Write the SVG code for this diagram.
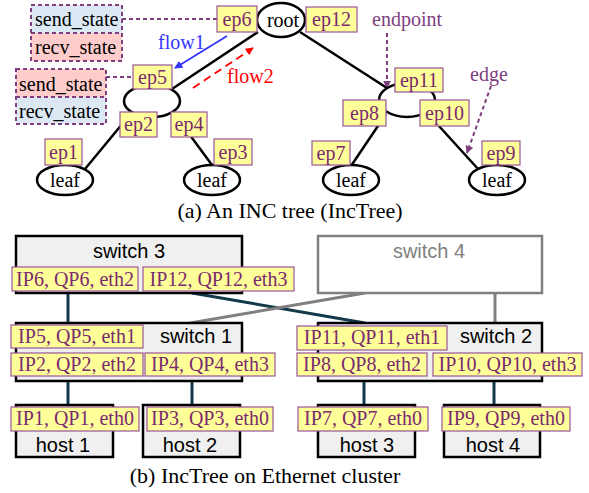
<svg xmlns="http://www.w3.org/2000/svg" width="589" height="493" viewBox="0 0 589 493">
<style>
.ep{fill:#ffff99;stroke:#9a559a;stroke-width:1.2}
.ept{font-family:"Liberation Serif",serif;font-size:20px;fill:#7a2a6e;text-anchor:middle}
.ser{font-family:"Liberation Serif",serif;font-size:20px;fill:#000}
.san{font-family:"Liberation Sans",Arial,sans-serif;font-size:20px;fill:#000;text-anchor:middle}
.node{fill:#fff;stroke:#000;stroke-width:2.5}
.edge{stroke:#000;stroke-width:2.5;fill:none}
.dash{stroke:#7f3f7f;stroke-width:2;stroke-dasharray:4,3;fill:none}
.sw{fill:#f0f0f0;stroke:#000;stroke-width:2.5}
.teal{stroke:#12394a;stroke-width:3;fill:none}
.gray{stroke:#808080;stroke-width:3;fill:none}
</style>
<defs>
<marker id="ab" viewBox="0 0 10 10" refX="9" refY="5" markerWidth="8" markerHeight="8" markerUnits="userSpaceOnUse" orient="auto"><path d="M0,0L10,5L0,10z" fill="#3333ff"/></marker>
<marker id="ar" viewBox="0 0 10 10" refX="9" refY="5" markerWidth="8" markerHeight="8" markerUnits="userSpaceOnUse" orient="auto"><path d="M0,0L10,5L0,10z" fill="#ff0000"/></marker>
<marker id="ap" viewBox="0 0 10 10" refX="9" refY="5" markerWidth="8" markerHeight="8" markerUnits="userSpaceOnUse" orient="auto"><path d="M0,0L10,5L0,10z" fill="#7f3f7f"/></marker>
</defs>

<g id="connectors">
<line class="edge" x1="258" y1="32" x2="172" y2="89"/>
<line class="edge" x1="300" y1="32" x2="387" y2="88"/>
<line class="edge" x1="128" y1="117" x2="85" y2="169"/>
<line class="edge" x1="178" y1="119" x2="212" y2="165"/>
<line class="edge" x1="386" y1="114" x2="351" y2="166"/>
<line class="edge" x1="428" y1="114" x2="479" y2="170"/>
<line class="dash" x1="122" y1="19" x2="217" y2="19"/>
<line class="dash" x1="106" y1="77" x2="133" y2="77"/>
<line stroke="#3333ff" stroke-width="1.8" x1="227" y1="36" x2="175" y2="68" marker-end="url(#ab)"/>
<line stroke="#ff0000" stroke-width="1.8" stroke-dasharray="8,5" x1="193" y1="88" x2="253" y2="48" marker-end="url(#ar)"/>
<line class="dash" x1="387" y1="33" x2="387" y2="88" marker-end="url(#ap)"/>
<line class="dash" x1="491" y1="86" x2="467" y2="153" marker-end="url(#ap)"/>
<line class="teal" x1="68" y1="293" x2="68" y2="323"/>
<line class="teal" x1="192" y1="293" x2="365" y2="323"/>
<line class="gray" x1="365" y1="293" x2="190" y2="323"/>
<line class="gray" x1="495" y1="293" x2="495" y2="323"/>
<line class="teal" x1="68" y1="381" x2="68" y2="405"/>
<line class="teal" x1="192" y1="381" x2="192" y2="405"/>
<line class="teal" x1="364" y1="381" x2="364" y2="405"/>
<line class="teal" x1="494" y1="381" x2="494" y2="405"/>
</g>

<g id="state1">
<rect x="31" y="5" width="91" height="28" fill="#dce9f5"/>
<rect x="31" y="33" width="91" height="28" fill="#ffcccc"/>
<rect class="dash" x="31" y="5" width="91" height="56"/>
<line class="dash" x1="31" y1="33" x2="122" y2="33"/>
<text class="ser" x="35" y="26">send_state</text>
<text class="ser" x="35" y="54">recv_state</text>
</g>
<g id="state2">
<rect x="16" y="69" width="90" height="28" fill="#ffcccc"/>
<rect x="16" y="97" width="90" height="27" fill="#dce9f5"/>
<rect class="dash" x="16" y="69" width="90" height="55"/>
<line class="dash" x1="16" y1="97" x2="106" y2="97"/>
<text class="ser" x="19" y="91">send_state</text>
<text class="ser" x="19" y="118">recv_state</text>
</g>

<g id="root"><ellipse class="node" cx="281" cy="20" rx="24" ry="17"/><text class="ser" x="283" y="27" text-anchor="middle">root</text></g>
<g id="mid1"><ellipse class="node" cx="152" cy="101" rx="28" ry="16"/></g>
<g id="mid2"><ellipse class="node" cx="407" cy="100" rx="28" ry="17"/></g>
<g id="leaf1"><ellipse class="node" cx="65" cy="180" rx="28" ry="15"/><text class="ser" x="65" y="187" text-anchor="middle">leaf</text></g>
<g id="leaf2"><ellipse class="node" cx="212" cy="180" rx="28" ry="15"/><text class="ser" x="212" y="187" text-anchor="middle">leaf</text></g>
<g id="leaf3"><ellipse class="node" cx="351" cy="180" rx="28" ry="15"/><text class="ser" x="351" y="187" text-anchor="middle">leaf</text></g>
<g id="leaf4"><ellipse class="node" cx="497" cy="180" rx="28" ry="15"/><text class="ser" x="497" y="187" text-anchor="middle">leaf</text></g>

<g id="ep6"><rect class="ep" x="217" y="6" width="40" height="26"/><text class="ept" x="237" y="26">ep6</text></g>
<g id="ep12"><rect class="ep" x="306" y="7" width="51" height="25"/><text class="ept" x="331.5" y="26">ep12</text></g>
<g id="ep5"><rect class="ep" x="133" y="65" width="39" height="24"/><text class="ept" x="152.5" y="84">ep5</text></g>
<g id="ep11"><rect class="ep" x="395" y="68" width="48" height="24"/><text class="ept" x="419" y="87">ep11</text></g>
<g id="ep8"><rect class="ep" x="343" y="100" width="43" height="26"/><text class="ept" x="364.5" y="120">ep8</text></g>
<g id="ep10"><rect class="ep" x="420" y="100" width="49" height="26"/><text class="ept" x="444.5" y="120">ep10</text></g>
<g id="ep2"><rect class="ep" x="120" y="112" width="37" height="25"/><text class="ept" x="138.5" y="131">ep2</text></g>
<g id="ep4"><rect class="ep" x="171" y="112" width="36" height="25"/><text class="ept" x="189" y="131">ep4</text></g>
<g id="ep1"><rect class="ep" x="45" y="139" width="37" height="26"/><text class="ept" x="63.5" y="159">ep1</text></g>
<g id="ep3"><rect class="ep" x="214" y="139" width="38" height="26"/><text class="ept" x="233" y="159">ep3</text></g>
<g id="ep7"><rect class="ep" x="312" y="141" width="38" height="24"/><text class="ept" x="331" y="160">ep7</text></g>
<g id="ep9"><rect class="ep" x="482" y="141" width="38" height="24"/><text class="ept" x="501" y="160">ep9</text></g>

<text x="158" y="49" font-family="Liberation Serif,serif" font-size="20" fill="#3333ff">flow1</text>
<text x="227" y="83" font-family="Liberation Serif,serif" font-size="20" fill="#ff0000">flow2</text>
<text x="372" y="26" font-family="Liberation Serif,serif" font-size="20" fill="#7f3f7f">endpoint</text>
<text x="470" y="81" font-family="Liberation Serif,serif" font-size="20" fill="#7f3f7f">edge</text>
<text x="290" y="218" font-family="Liberation Serif,serif" font-size="22" text-anchor="middle">(a) An INC tree (IncTree)</text>

<g id="switch3"><rect class="sw" x="16" y="236" width="226" height="57"/><text class="san" x="129" y="258">switch 3</text>
<rect class="ep" x="12" y="267" width="126" height="24"/><text class="ept" x="75" y="286">IP6, QP6, eth2</text>
<rect class="ep" x="143" y="267" width="151" height="24"/><text class="ept" x="218.5" y="286">IP12, QP12, eth3</text></g>
<g id="switch4"><rect x="318" y="236" width="224" height="57" fill="#fff" stroke="#808080" stroke-width="2.5"/><text class="san" x="429" y="258" style="fill:#808080">switch 4</text></g>
<g id="switch1"><rect class="sw" x="16" y="323" width="226" height="58"/><text class="san" x="196" y="343">switch 1</text>
<rect class="ep" x="11" y="325" width="132" height="23"/><text class="ept" x="77" y="343">IP5, QP5, eth1</text>
<rect class="ep" x="11" y="353" width="132" height="23"/><text class="ept" x="77" y="371">IP2, QP2, eth2</text>
<rect class="ep" x="145" y="353" width="130" height="23"/><text class="ept" x="210" y="371">IP4, QP4, eth3</text></g>
<g id="switch2"><rect class="sw" x="318" y="323" width="224" height="58"/><text class="san" x="496" y="343">switch 2</text>
<rect class="ep" x="297" y="326" width="150" height="24"/><text class="ept" x="372" y="344">IP11, QP11, eth1</text>
<rect class="ep" x="297" y="353" width="130" height="23"/><text class="ept" x="362" y="371">IP8, QP8, eth2</text>
<rect class="ep" x="433" y="353" width="149" height="23"/><text class="ept" x="507.5" y="371">IP10, QP10, eth3</text></g>
<g id="host1"><rect class="sw" x="16" y="405" width="97" height="52"/><text class="san" x="63" y="452">host 1</text>
<rect class="ep" x="11" y="407" width="128" height="24"/><text class="ept" x="75" y="425">IP1, QP1, eth0</text></g>
<g id="host2"><rect class="sw" x="143" y="405" width="97" height="52"/><text class="san" x="190" y="452">host 2</text>
<rect class="ep" x="147" y="407" width="126" height="24"/><text class="ept" x="210" y="425">IP3, QP3, eth0</text></g>
<g id="host3"><rect class="sw" x="318" y="405" width="97" height="52"/><text class="san" x="367" y="452">host 3</text>
<rect class="ep" x="298" y="407" width="130" height="24"/><text class="ept" x="363" y="425">IP7, QP7, eth0</text></g>
<g id="host4"><rect class="sw" x="444" y="405" width="96" height="52"/><text class="san" x="493" y="452">host 4</text>
<rect class="ep" x="442" y="407" width="128" height="24"/><text class="ept" x="506" y="425">IP9, QP9, eth0</text></g>
<text x="265" y="483" font-family="Liberation Serif,serif" font-size="22" text-anchor="middle">(b) IncTree on Ethernet cluster</text>
</svg>
